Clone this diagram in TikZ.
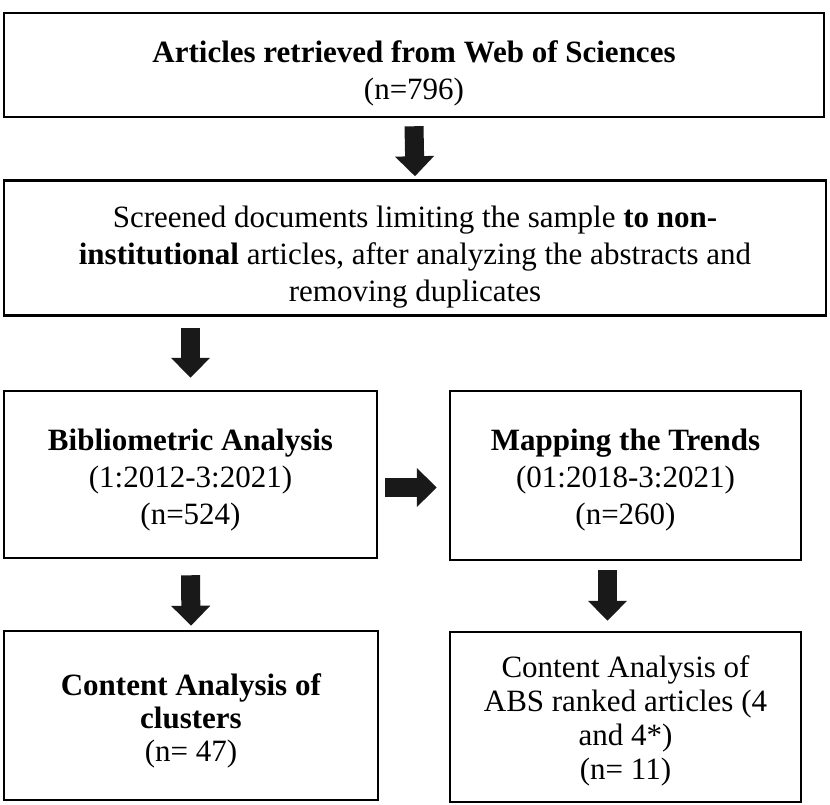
\documentclass[tikz,border=0pt]{standalone}
\usepackage{fontspec}
\setmainfont{Liberation Serif}
\usetikzlibrary{arrows.meta}

\begin{document}
\begin{tikzpicture}[
    x=1pt, y=-1pt,               % Pixelkoordinaten, Ursprung oben links
    box/.style={draw, line width=2.5pt, inner sep=0pt},
    txt/.style={align=center, inner sep=0pt, font=\fontsize{31}{37}\selectfont},
    blockarrow/.style={-{Triangle[length=20pt,width=38pt]}, line width=19pt, draw=black!90}
  ]
  \useasboundingbox (0,0) rectangle (830,804);

  % Kaesten (oben volle Breite, unten zwei Spalten)
  \node[box, minimum width=820pt, minimum height=104pt] (retrieved) at (414,65) {};
  \node[box, minimum width=822pt, minimum height=135pt] (screened) at (415,248) {};
  \node[box, minimum width=373pt, minimum height=167pt] (bibliometric) at (190.5,474.5) {};
  \node[box, minimum width=351pt, minimum height=169pt] (trends) at (625.5,475.5) {};
  \node[box, minimum width=374pt, minimum height=169pt] (clusters) at (191,715.5) {};
  \node[box, minimum width=351pt, minimum height=170pt] (absranked) at (625.5,717) {};

  % Texte in den Kaesten
  \node[txt] (retrievedtxt) at ([yshift=-8pt]retrieved)
    {\textbf{Articles retrieved from Web of Sciences}\\(n=796)};
  \node[txt] (screenedtxt) at ([yshift=-9pt]screened)
    {Screened documents limiting the sample \textbf{to non-}\\\textbf{institutional} articles, after analyzing the abstracts and\\removing duplicates};
  \node[txt] (bibliometrictxt) at ([yshift=-6pt]bibliometric)
    {\textbf{Bibliometric Analysis}\\(1:2012-3:2021)\\(n=524)};
  \node[txt] (trendstxt) at ([yshift=-5pt]trends)
    {\textbf{Mapping the Trends}\\(01:2018-3:2021)\\(n=260)};
  \node[txt, font=\fontsize{31}{33}\selectfont] (clusterstxt) at ([yshift=-5pt]clusters)
    {\textbf{Content Analysis of}\\\textbf{clusters}\\(n= 47)};
  \node[txt, font=\fontsize{31}{34}\selectfont] (absrankedtxt) at ([yshift=-4pt]absranked)
    {Content Analysis of\\ABS ranked articles (4\\and 4*)\\(n= 11)};

  % Blockpfeile
  \draw[blockarrow] ([yshift=-8pt]retrieved.south) -- ([yshift=3pt]screened.north);
  \draw[blockarrow] ([yshift=-11pt]bibliometric.north |- screened.south) -- ([yshift=12pt]bibliometric.north);
  \draw[blockarrow] ([xshift=7pt,yshift=-13pt]bibliometric.east) -- ([xshift=-12pt,yshift=-13pt]bibliometric.east -| trends.west);
  \draw[blockarrow] ([yshift=-16pt]bibliometric.south) -- ([yshift=4pt]clusters.north);
  \draw[blockarrow] ([xshift=-18pt,yshift=-9pt]trends.south) -- ([xshift=-18pt,yshift=10pt]absranked.north);

\end{tikzpicture}
\end{document}
